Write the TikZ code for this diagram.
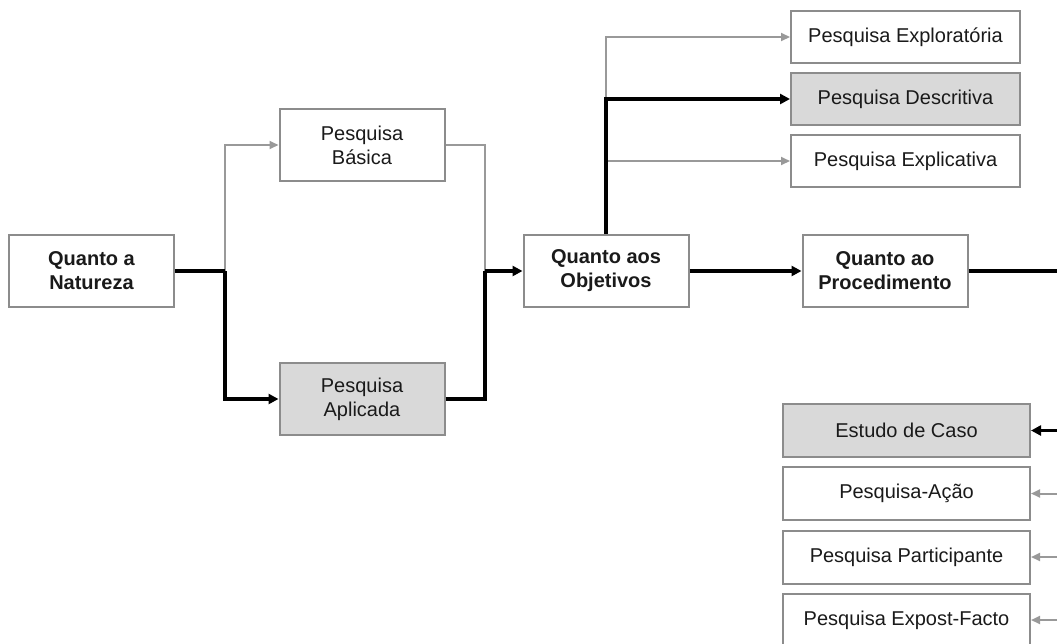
\documentclass[tikz,border=0pt]{standalone}
\usepackage{fontspec}
\setmainfont{Liberation Sans}
\usetikzlibrary{arrows.meta}
\definecolor{boxline}{HTML}{8C8C8C}
\definecolor{boxfill}{HTML}{D9D9D9}
\definecolor{thinline}{HTML}{999999}
\definecolor{textcol}{HTML}{1A1A1A}
\begin{document}
\begin{tikzpicture}[x=1pt,y=-1pt,
  box/.style={draw=boxline,line width=2pt,fill=white,align=center,inner sep=0pt,
    text=textcol,font=\fontsize{20}{24}\selectfont},
  bigbox/.style={box,minimum width=165pt,minimum height=72pt},
  topbox/.style={box,minimum width=229pt,minimum height=52pt},
  lowbox/.style={box,minimum width=247pt,minimum height=53pt},
  chosen/.style={fill=boxfill},
  heading/.style={font=\fontsize{20}{24}\selectfont\bfseries},
  main/.style={line width=3.5pt,black},
  mainarrow/.style={main,-{Triangle[length=10pt,width=10pt]}},
  alt/.style={line width=2pt,thinline},
  altarrow/.style={alt,-{Triangle[length=9pt,width=8pt]}}]
\useasboundingbox (0,0) rectangle (1057,643);
\begin{scope}
\clip (0,0) rectangle (1057,643);

% boxes
\node[bigbox,heading] (nat)  at (91.5,271) {Quanto a\\Natureza};
\node[bigbox]         (bas)  at (362,145)  {Pesquisa\\Básica};
\node[bigbox,chosen]  (apl)  at (362,399)  {Pesquisa\\Aplicada};
\node[bigbox,heading] (obj)  at (606,271)  {Quanto aos\\Objetivos};
\node[bigbox,heading] (proc) at (885,271)  {Quanto ao\\Procedimento};

\node[topbox]        (expl) at (905.5,37)  {Pesquisa Exploratória};
\node[topbox,chosen] (desc) at (905.5,99)  {Pesquisa Descritiva};
\node[topbox]        (expc) at (905.5,161) {Pesquisa Explicativa};

\node[lowbox,chosen] (caso) at (906.5,430.5) {Estudo de Caso};
\node[lowbox]        (acao) at (906.5,493.5) {Pesquisa-Ação};
\node[lowbox]        (part) at (906.5,557)   {Pesquisa Participante};
\node[lowbox]        (expo) at (906.5,620)   {Pesquisa Expost-Facto};

% junction points
\coordinate (j1) at (225,271);
\coordinate (j2) at (485,271);
\coordinate (j3) at (606,99);
\coordinate (r0) at (1057,271);
\coordinate (r1) at (1057,430.5);
\coordinate (r2) at (1057,493.5);
\coordinate (r3) at (1057,557);
\coordinate (r4) at (1057,620);

% alternative paths (thin, grey)
\draw[altarrow] (j1) |- (bas.west);
\draw[alt] (bas.east) -| (j2);
\draw[altarrow] (j3) |- (expl.west);
\draw[altarrow] (obj.north |- expc.west) -- (expc.west);
\draw[altarrow] (r2) -- (acao.east);
\draw[altarrow] (r3) -- (part.east);
\draw[altarrow] (r4) -- (expo.east);

% chosen path (thick, black)
\draw[main] (nat.east) -- (j1);
\draw[mainarrow] (j1) |- (apl.west);
\draw[main] (apl.east) -| (j2);
\draw[mainarrow] (j2) -- (obj.west);
\draw[mainarrow] (obj.north) |- (desc.west);
\draw[mainarrow] (obj.east) -- (proc.west);
\draw[main] (proc.east) -- (r0);
\draw[mainarrow] (r1) -- (caso.east);
\end{scope}
\end{tikzpicture}
\end{document}
